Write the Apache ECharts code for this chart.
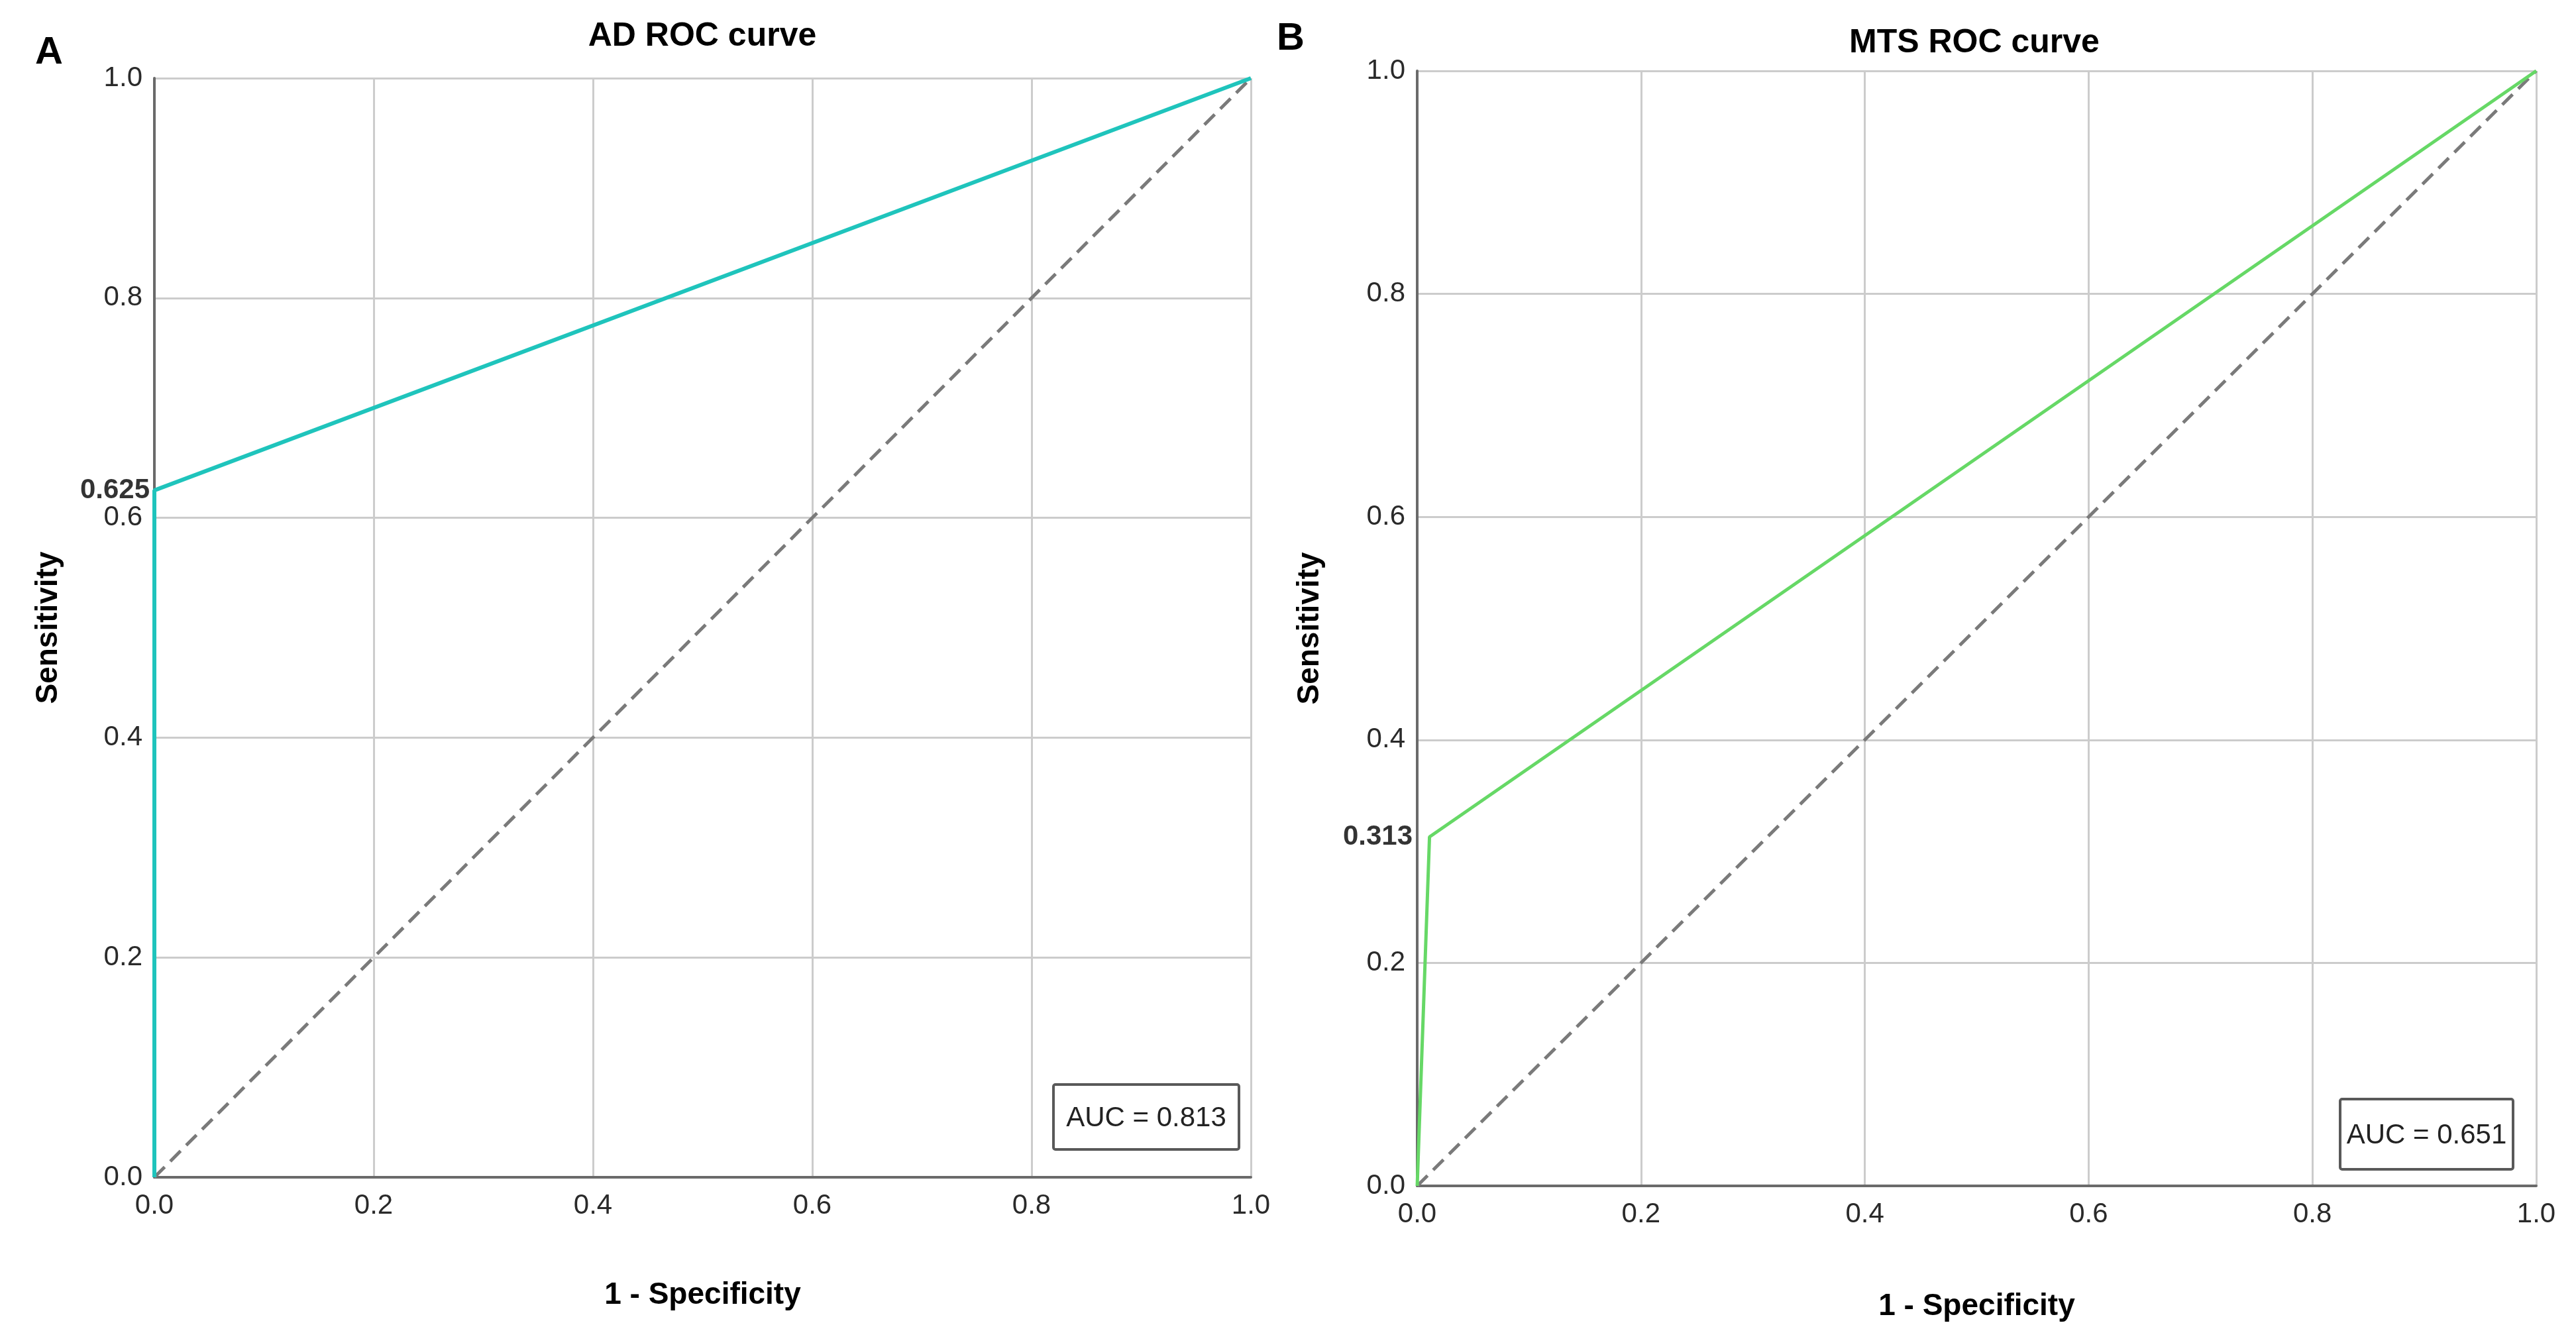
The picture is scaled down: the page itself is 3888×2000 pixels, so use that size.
<!DOCTYPE html>
<html lang="en">
<head>
    <meta charset="UTF-8">
    <title>ROC curves</title>
    <style>
        html, body { margin: 0; padding: 0; background: #fff; }
    </style>
</head>
<body>
<div id="main" style="width: 3888px;height:2000px;"></div>
<script src="https://cdn.jsdelivr.net/npm/echarts@6.0.0/dist/echarts.min.js"></script>
<script type="text/javascript">
    // ROC points (1 - specificity, sensitivity)
    var adFpr = [0, 0, 1];
    var adTpr = [0, 0.625, 1];
    var mtsFpr = [0, 0.011, 1];
    var mtsTpr = [0, 0.313, 1];
    // reference diagonal
    var refX = [0, 1];
    var refY = [0, 1];
    var panelLetters = ["A", "B"];
    var panelTitles = ["AD ROC curve", "MTS ROC curve"];
    var aucText = ["AUC = 0.813", "AUC = 0.651"];
    var cutValues = [0.625, 0.313];

    var FONT = "Liberation Sans";

    function zip(xs, ys) {
        var out = [];
        for (var i = 0; i < xs.length; i++) out.push([xs[i], ys[i]]);
        return out;
    }

    var myChart = echarts.init(document.getElementById("main"));

    function valueAxis(idx, name, isX, gap) {
        return {
            type: "value",
            gridIndex: idx,
            min: 0,
            max: 1,
            interval: 0.2,
            name: name,
            nameLocation: "middle",
            nameGap: gap,
            nameTextStyle: {
                fontFamily: FONT,
                fontWeight: "bold",
                fontSize: 46,
                color: "#000"
            },
            axisLine: {show: true, onZero: false, lineStyle: {color: "#6a6a6a", width: 4}},
            axisTick: {show: false},
            axisLabel: {
                fontFamily: FONT,
                fontSize: 42,
                color: "#2a2a2a",
                margin: isX ? 22 : 18,
                formatter: function (v) { return v.toFixed(1); }
            },
            splitLine: {show: true, lineStyle: {color: "#cccccc", width: 3}}
        };
    }

    var grids = [
        {left: 233, top: 118, width: 1655, height: 1659},
        {left: 2139, top: 107, width: 1689, height: 1690}
    ];

    var curves = [zip(adFpr, adTpr), zip(mtsFpr, mtsTpr)];
    var colors = ["#1fc4bc", "#66d866"];
    var widths = [6, 5];

    var series = [];
    for (var p = 0; p < 2; p++) {
        // dashed chance line
        series.push({
            type: "line",
            xAxisIndex: p,
            yAxisIndex: p,
            data: zip(refX, refY),
            symbol: "none",
            silent: true,
            lineStyle: {color: "#7a7a7a", width: 5, type: [22, 12]},
            z: 2
        });
        // ROC curve
        series.push({
            type: "line",
            xAxisIndex: p,
            yAxisIndex: p,
            data: curves[p],
            symbol: "none",
            lineStyle: {color: colors[p], width: widths[p]},
            z: 3
        });
        // cut-off value marked on the y axis
        series.push({
            type: "scatter",
            xAxisIndex: p,
            yAxisIndex: p,
            data: [[0, cutValues[p]]],
            symbolSize: 0,
            label: {
                show: true,
                position: "left",
                distance: 7,
                formatter: String(cutValues[p].toFixed(3)),
                fontFamily: FONT,
                fontWeight: "bold",
                fontSize: 42,
                color: "#000"
            },
            z: 4
        });
    }

    // AUC boxes, panel letters and titles
    var boxes = [
        {x: 1590, y: 1637, w: 280, h: 98},
        {x: 3532, y: 1659, w: 261, h: 106}
    ];
    var graphics = [];
    for (var k = 0; k < 2; k++) {
        graphics.push({
            type: "group",
            x: boxes[k].x,
            y: boxes[k].y,
            children: [
                {
                    type: "rect",
                    shape: {x: 0, y: 0, width: boxes[k].w, height: boxes[k].h, r: 3},
                    style: {fill: "#fff", stroke: "#595959", lineWidth: 4}
                },
                {
                    type: "text",
                    x: boxes[k].w / 2,
                    y: boxes[k].h / 2 + 2,
                    style: {
                        text: aucText[k],
                        font: "42px '" + FONT + "'",
                        fill: "#222",
                        align: "center",
                        verticalAlign: "middle"
                    }
                }
            ]
        });
    }
    var letterPos = [[74, 80], [1948, 59]];
    var titlePos = [[1060, 55], [2980, 65]];
    for (var m = 0; m < 2; m++) {
        graphics.push({
            type: "text",
            x: letterPos[m][0],
            y: letterPos[m][1],
            style: {
                text: panelLetters[m],
                font: "bold 58px '" + FONT + "'",
                fill: "#000",
                align: "center",
                verticalAlign: "middle"
            }
        });
        graphics.push({
            type: "text",
            x: titlePos[m][0],
            y: titlePos[m][1],
            style: {
                text: panelTitles[m],
                font: "bold 50px '" + FONT + "'",
                fill: "#000",
                align: "center",
                verticalAlign: "middle"
            }
        });
    }

    var option = {
        backgroundColor: "#fff",
        animation: false,
        grid: grids,
        xAxis: [
            valueAxis(0, "1 - Specificity", true, 155),
            valueAxis(1, "1 - Specificity", true, 159)
        ],
        yAxis: [
            valueAxis(0, "Sensitivity", false, 137),
            valueAxis(1, "Sensitivity", false, 139)
        ],
        series: series,
        graphic: graphics
    };

    myChart.setOption(option);
</script>
</body>
</html>
